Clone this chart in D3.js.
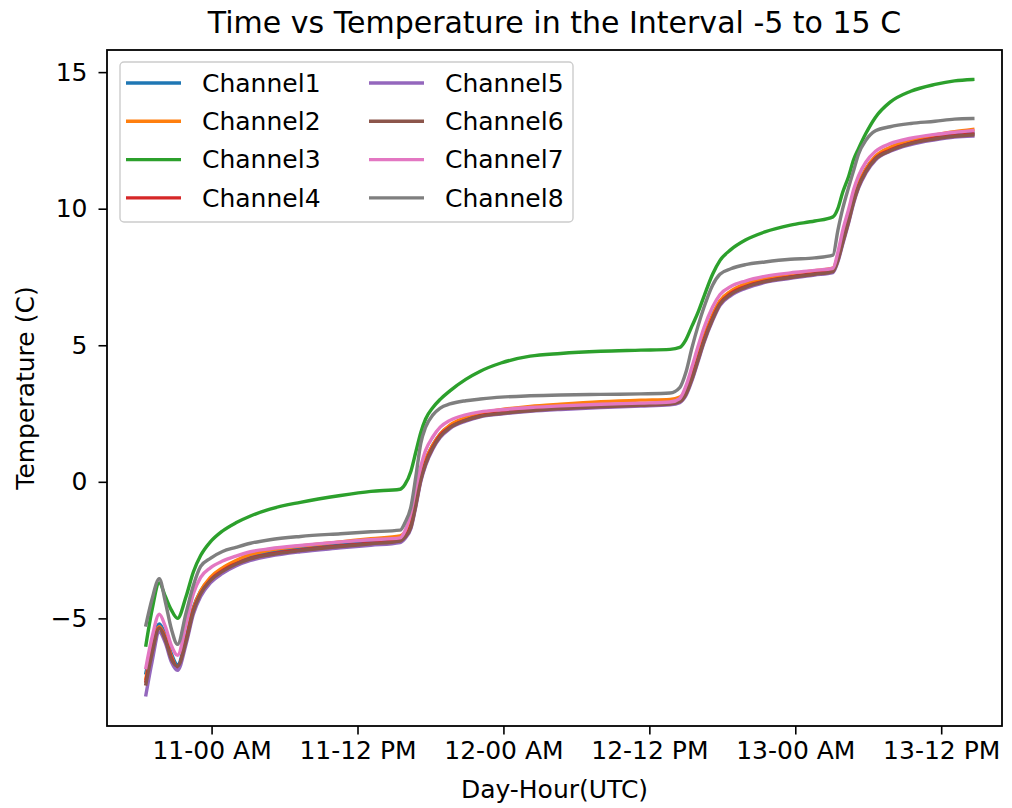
<!DOCTYPE html>
<html>
<head>
<meta charset="utf-8">
<script src="https://cdn.jsdelivr.net/npm/d3@7"></script>
<style>
  body { margin: 0; background: #fff; }
  text { font-family: "DejaVu Sans", sans-serif; fill: #000; }
</style>
</head>
<body>
<div id="chart"></div>
<script>
// hours from 11th 00:00 UTC
const hours = [
  -5.4, -4.9, -4.3, -3.8, -3.3, -2.8, -2.1, -1.5, -0.9, -0.1,
  0.9, 2.0, 3.2, 4.8, 7.3, 10.6, 13.1, 15.5, 15.9, 16.4,
  16.8, 17.2, 17.6, 18.2, 18.8, 19.6, 20.9, 22.1, 23.8, 26.2,
  28.7, 32.0, 35.3, 37.7, 38.5, 39.0, 39.5, 40.0, 40.5, 41.2,
  41.8, 42.7, 43.9, 45.5, 47.6, 49.6, 51.1, 51.5, 51.9, 52.4,
  52.8, 53.2, 53.8, 54.6, 55.8, 57.5, 59.5, 61.1, 62.6
];

const ch1 = [
  -7.0, -6.0, -5.2, -5.6, -6.3, -6.7, -5.7, -4.6, -4.0, -3.55,
  -3.2, -2.95, -2.75, -2.6, -2.45, -2.3, -2.2, -2.1, -1.95, -1.5,
  -0.7, 0.2, 0.8, 1.35, 1.75, 2.05, 2.3, 2.45, 2.55, 2.65,
  2.72, 2.8, 2.85, 2.9, 3.0, 3.3, 3.9, 4.6, 5.3, 6.1,
  6.6, 6.95, 7.2, 7.4, 7.55, 7.65, 7.75, 8.2, 8.9, 9.7,
  10.4, 10.9, 11.45, 11.9, 12.2, 12.45, 12.62, 12.72, 12.78
];
const ch2 = [
  -7.2, -6.1, -5.3, -5.7, -6.4, -6.8, -5.8, -4.65, -4.0, -3.5,
  -3.15, -2.88, -2.66, -2.5, -2.35, -2.2, -2.08, -1.98, -1.85, -1.45,
  -0.7, 0.2, 0.8, 1.35, 1.75, 2.08, 2.35, 2.52, 2.64, 2.76,
  2.84, 2.93, 2.99, 3.02, 3.1, 3.35, 3.9, 4.6, 5.3, 6.1,
  6.62, 6.98, 7.25, 7.45, 7.62, 7.73, 7.82, 8.25, 8.9, 9.7,
  10.4, 10.9, 11.45, 11.92, 12.25, 12.52, 12.7, 12.82, 12.9
];
const ch3 = [
  -5.98, -4.7, -3.7, -4.2, -4.7, -5.0, -4.2, -3.3, -2.7, -2.2,
  -1.8, -1.5, -1.25, -1.0, -0.75, -0.5, -0.35, -0.27, -0.1, 0.4,
  1.1, 1.8, 2.3, 2.72, 3.02, 3.33, 3.75, 4.05, 4.35, 4.6,
  4.7, 4.78, 4.82, 4.85, 4.92, 5.2, 5.7, 6.2, 6.8, 7.6,
  8.1, 8.5, 8.85, 9.15, 9.4, 9.55, 9.7, 10.0, 10.6, 11.2,
  11.8, 12.2, 12.75, 13.35, 13.9, 14.3, 14.55, 14.68, 14.73
];
const ch4 = [
  -7.3, -6.2, -5.35, -5.75, -6.45, -6.8, -5.8, -4.7, -4.1, -3.6,
  -3.25, -3.0, -2.8, -2.65, -2.5, -2.35, -2.25, -2.15, -2.0, -1.6,
  -0.8, 0.1, 0.7, 1.28, 1.7, 2.0, 2.26, 2.42, 2.52, 2.62,
  2.7, 2.77, 2.82, 2.87, 2.96, 3.25, 3.82, 4.5, 5.2, 6.0,
  6.52, 6.9, 7.15, 7.35, 7.5, 7.62, 7.72, 8.15, 8.8, 9.6,
  10.3, 10.82, 11.38, 11.85, 12.15, 12.4, 12.58, 12.68, 12.74
];
const ch5 = [
  -7.8, -6.6, -5.5, -5.9, -6.6, -6.9, -5.95, -4.85, -4.2, -3.7,
  -3.35, -3.08, -2.88, -2.72, -2.56, -2.42, -2.32, -2.22, -2.08, -1.7,
  -0.9, 0.0, 0.6, 1.2, 1.62, 1.95, 2.22, 2.38, 2.48, 2.58,
  2.65, 2.72, 2.77, 2.82, 2.9, 3.15, 3.7, 4.4, 5.1, 5.9,
  6.45, 6.82, 7.08, 7.3, 7.45, 7.57, 7.66, 8.05, 8.7, 9.5,
  10.2, 10.75, 11.3, 11.78, 12.1, 12.35, 12.52, 12.62, 12.66
];
const ch6 = [
  -7.4, -6.3, -5.36, -5.8, -6.5, -6.75, -5.85, -4.75, -4.1, -3.62,
  -3.28, -3.02, -2.82, -2.67, -2.52, -2.37, -2.27, -2.17, -2.03, -1.65,
  -0.85, 0.05, 0.65, 1.25, 1.66, 1.98, 2.25, 2.4, 2.5, 2.6,
  2.68, 2.75, 2.8, 2.85, 2.93, 3.2, 3.76, 4.45, 5.15, 5.95,
  6.5, 6.86, 7.12, 7.33, 7.48, 7.6, 7.7, 8.1, 8.75, 9.55,
  10.25, 10.8, 11.35, 11.82, 12.12, 12.38, 12.55, 12.65, 12.7
];
const ch7 = [
  -6.8, -5.7, -4.85, -5.3, -6.0, -6.35, -5.2, -4.1, -3.5, -3.15,
  -2.9, -2.72, -2.56, -2.45, -2.33, -2.2, -2.12, -2.05, -1.8, -1.1,
  -0.2, 0.55, 1.15, 1.65, 2.0, 2.25, 2.45, 2.56, 2.64, 2.72,
  2.78, 2.84, 2.88, 2.92, 3.05, 3.5, 4.2, 4.95, 5.65, 6.4,
  6.85, 7.15, 7.35, 7.52, 7.65, 7.74, 7.82, 8.4, 9.2, 10.0,
  10.7, 11.2, 11.7, 12.1, 12.38, 12.58, 12.72, 12.8, 12.86
];
const ch8 = [
  -5.24, -4.3, -3.55, -4.4, -5.4, -5.95, -4.8, -3.8, -3.1, -2.8,
  -2.55, -2.4, -2.25, -2.12, -2.0, -1.9, -1.83, -1.77, -1.5, -0.9,
  0.2, 1.4, 2.0, 2.45, 2.7, 2.85, 2.97, 3.03, 3.1, 3.15,
  3.18, 3.2, 3.22, 3.25, 3.45, 4.0, 4.9, 5.7, 6.4, 7.2,
  7.6, 7.8, 7.95, 8.05, 8.15, 8.2, 8.3, 9.2, 10.0, 10.8,
  11.4, 12.0, 12.5, 12.85, 13.0, 13.12, 13.2, 13.28, 13.3
];

const names = ['Channel1', 'Channel2', 'Channel3', 'Channel4', 'Channel5', 'Channel6', 'Channel7', 'Channel8'];
const colors = ['#1f77b4', '#ff7f0e', '#2ca02c', '#d62728', '#9467bd', '#8c564b', '#e377c2', '#7f7f7f'];
const seriesValues = [ch1, ch2, ch3, ch4, ch5, ch6, ch7, ch8];

const yTicks = [-5, 0, 5, 10, 15];
const xTickHours = [0, 12, 24, 36, 48, 60];

const W = 1012, H = 808;
const margin = { top: 50, right: 10, bottom: 82, left: 107 };
const width = W - margin.left - margin.right;
const height = H - margin.top - margin.bottom;

const base = Date.UTC(2022, 0, 11, 0, 0);
const toDate = h => new Date(base + h * 3600 * 1000);

const svg = d3.select('#chart').append('svg')
  .attr('width', W)
  .attr('height', H);

svg.append('rect').attr('width', W).attr('height', H).attr('fill', '#fff');

const g = svg.append('g').attr('transform', `translate(${margin.left},${margin.top})`);

const x = d3.scaleUtc()
  .domain([toDate(-8.6), toDate(65.0)])
  .range([0, width]);

const y = d3.scaleLinear()
  .domain([-8.94, 15.81])
  .range([height, 0]);

const fmt = d3.utcFormat('%d-%H %p');
const FS = 25;

// axes
g.append('g')
  .attr('transform', `translate(0,${height})`)
  .call(d3.axisBottom(x).tickValues(xTickHours.map(toDate)).tickFormat(fmt).tickSize(8.5).tickPadding(7).tickSizeOuter(0))
  .call(ax => ax.select('.domain').remove())
  .call(ax => ax.selectAll('.tick line').attr('stroke', '#000').attr('stroke-width', 1.6))
  .call(ax => ax.selectAll('.tick text').attr('font-size', FS).attr('font-family', '"DejaVu Sans", sans-serif'));

g.append('g')
  .call(d3.axisLeft(y).tickValues(yTicks).tickFormat(d => d < 0 ? '\u2212' + Math.abs(d) : d).tickSize(8.5).tickPadding(11).tickSizeOuter(0))
  .call(ax => ax.select('.domain').remove())
  .call(ax => ax.selectAll('.tick line').attr('stroke', '#000').attr('stroke-width', 1.6))
  .call(ax => ax.selectAll('.tick text').attr('font-size', FS).attr('font-family', '"DejaVu Sans", sans-serif'));

// lines
const line = d3.line()
  .x(d => x(toDate(d[0])))
  .y(d => y(d[1]))
  .curve(d3.curveMonotoneX);

const clipId = 'plot-clip';
g.append('clipPath').attr('id', clipId)
  .append('rect').attr('width', width).attr('height', height);

const linesGroup = g.append('g').attr('clip-path', `url(#${clipId})`);
seriesValues.forEach((vals, i) => {
  linesGroup.append('path')
    .datum(hours.map((h, j) => [h, vals[j]]))
    .attr('fill', 'none')
    .attr('stroke', colors[i])
    .attr('stroke-width', 3.4)
    .attr('stroke-linejoin', 'round')
    .attr('stroke-linecap', 'square')
    .attr('d', line);
});

// frame
g.append('rect')
  .attr('width', width)
  .attr('height', height)
  .attr('fill', 'none')
  .attr('stroke', '#000')
  .attr('stroke-width', 1.8);

// legend
const legend = g.append('g').attr('transform', 'translate(13,12)');
legend.append('rect')
  .attr('width', 453)
  .attr('height', 160)
  .attr('rx', 4)
  .attr('fill', 'rgba(255,255,255,0.8)')
  .attr('stroke', '#cccccc')
  .attr('stroke-width', 1.4);

names.forEach((name, i) => {
  const col = Math.floor(i / 4), row = i % 4;
  const lx = 6 + col * 243, ly = 21 + row * 38.3;
  const item = legend.append('g').attr('transform', `translate(${lx},${ly})`);
  item.append('line')
    .attr('x1', 0).attr('x2', 55)
    .attr('stroke', colors[i])
    .attr('stroke-width', 3.4);
  item.append('text')
    .attr('x', 76)
    .attr('dy', '0.35em')
    .attr('font-size', FS)
    .text(name);
});

// titles
svg.append('text')
  .attr('x', margin.left + width / 2)
  .attr('y', 33)
  .attr('text-anchor', 'middle')
  .attr('font-size', 30)
  .text('Time vs Temperature in the Interval -5 to 15 C');

svg.append('text')
  .attr('x', margin.left + width / 2)
  .attr('y', 798)
  .attr('text-anchor', 'middle')
  .attr('font-size', FS)
  .text('Day-Hour(UTC)');

svg.append('text')
  .attr('transform', `translate(34,${margin.top + height / 2}) rotate(-90)`)
  .attr('text-anchor', 'middle')
  .attr('font-size', FS)
  .text('Temperature (C)');
</script>
</body>
</html>
